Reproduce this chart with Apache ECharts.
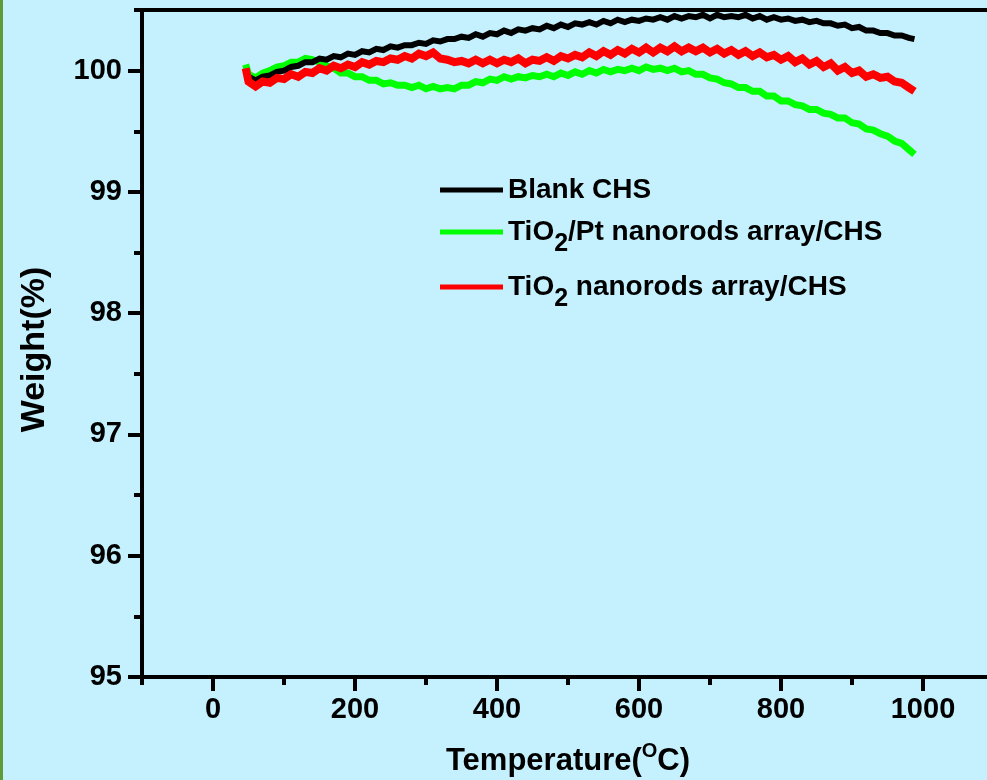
<!DOCTYPE html>
<html>
<head>
<meta charset="utf-8">
<script src="https://cdn.jsdelivr.net/npm/echarts@6/dist/echarts.min.js"></script>
<style>
  html, body { margin: 0; padding: 0; background: #c4f1fd; }
  #chart { width: 987px; height: 780px; }
</style>
</head>
<body>
<div id="chart"></div>
<script>
// Temperature sampling points (°C) shared by all three TGA traces
const temps = [
  46, 50, 60, 70, 80, 90, 100, 110, 120, 130,
  140, 150, 160, 170, 180, 190, 200, 210, 220, 230,
  240, 250, 260, 270, 280, 290, 300, 310, 320, 330,
  340, 350, 360, 370, 380, 390, 400, 410, 420, 430,
  440, 450, 460, 470, 480, 490, 500, 510, 520, 530,
  540, 550, 560, 570, 580, 590, 600, 610, 620, 630,
  640, 650, 660, 670, 680, 690, 700, 710, 720, 730,
  740, 750, 760, 770, 780, 790, 800, 810, 820, 830,
  840, 850, 860, 870, 880, 890, 900, 910, 920, 930,
  940, 950, 960, 970, 980, 988];

// Weight (%) of each sample
const blankCHS = [
  99.99, 99.95, 99.92, 99.95, 99.96, 99.99, 100.00, 100.03, 100.04, 100.07,
  100.07, 100.10, 100.09, 100.12, 100.11, 100.14, 100.13, 100.16, 100.15, 100.18,
  100.17, 100.20, 100.19, 100.21, 100.21, 100.23, 100.22, 100.25, 100.24, 100.26,
  100.26, 100.28, 100.27, 100.30, 100.28, 100.31, 100.30, 100.33, 100.31, 100.34,
  100.33, 100.35, 100.34, 100.37, 100.35, 100.38, 100.36, 100.39, 100.38, 100.40,
  100.38, 100.41, 100.39, 100.42, 100.40, 100.42, 100.41, 100.43, 100.42, 100.44,
  100.42, 100.45, 100.43, 100.45, 100.44, 100.46, 100.43, 100.46, 100.44, 100.45,
  100.44, 100.46, 100.43, 100.45, 100.42, 100.44, 100.42, 100.43, 100.41, 100.42,
  100.40, 100.41, 100.39, 100.39, 100.37, 100.38, 100.35, 100.36, 100.33, 100.33,
  100.31, 100.31, 100.29, 100.29, 100.27, 100.26];

const tiO2PtCHS = [
  100.05, 99.97, 99.94, 99.98, 100.00, 100.03, 100.04, 100.07, 100.07, 100.10,
  100.09, 100.07, 100.04, 100.02, 99.98, 99.98, 99.95, 99.95, 99.92, 99.92,
  99.89, 99.90, 99.88, 99.88, 99.86, 99.88, 99.85, 99.87, 99.85, 99.86,
  99.85, 99.88, 99.88, 99.91, 99.90, 99.93, 99.92, 99.95, 99.93, 99.95,
  99.94, 99.96, 99.95, 99.97, 99.95, 99.98, 99.96, 99.99, 99.97, 100.00,
  99.98, 100.01, 99.99, 100.01, 100.00, 100.02, 100.00, 100.03, 100.01, 100.02,
  100.00, 100.02, 99.99, 100.00, 99.97, 99.97, 99.94, 99.93, 99.90, 99.89,
  99.86, 99.86, 99.83, 99.83, 99.79, 99.79, 99.75, 99.75, 99.72, 99.71,
  99.68, 99.68, 99.65, 99.64, 99.61, 99.61, 99.57, 99.56, 99.52, 99.51,
  99.48, 99.46, 99.42, 99.40, 99.35, 99.31];

const tiO2CHS = [
  100.02, 99.91, 99.87, 99.91, 99.90, 99.94, 99.93, 99.97, 99.95, 99.99,
  99.98, 100.02, 100.00, 100.04, 100.02, 100.05, 100.03, 100.07, 100.05, 100.08,
  100.07, 100.10, 100.09, 100.12, 100.10, 100.14, 100.12, 100.15, 100.10, 100.09,
  100.07, 100.08, 100.06, 100.09, 100.06, 100.09, 100.06, 100.09, 100.07, 100.10,
  100.06, 100.09, 100.08, 100.11, 100.08, 100.12, 100.10, 100.13, 100.11, 100.15,
  100.12, 100.16, 100.13, 100.17, 100.14, 100.18, 100.15, 100.19, 100.15, 100.19,
  100.16, 100.20, 100.16, 100.19, 100.16, 100.19, 100.15, 100.18, 100.14, 100.17,
  100.13, 100.16, 100.12, 100.15, 100.11, 100.13, 100.09, 100.12, 100.07, 100.10,
  100.05, 100.08, 100.03, 100.06, 100.00, 100.03, 99.98, 100.00, 99.95, 99.97,
  99.94, 99.95, 99.91, 99.90, 99.86, 99.83];

// Axis tick positions and labels
const xLabelTicks = [0, 200, 400, 600, 800, 1000];
const xMinorTicks = [-100, 100, 300, 500, 700, 900, 1100];
const yLabelTicks = [95, 96, 97, 98, 99, 100];
const yMinorTicks = [95.5, 96.5, 97.5, 98.5, 99.5, 100.5];

const seriesNames = ['Blank CHS', 'TiO2/Pt nanorods array/CHS', 'TiO2 nanorods array/CHS'];
const seriesColors = ['#000000', '#00ff00', '#ff0000'];
const seriesWidths = [6, 7, 8];

const FONT = "'Liberation Sans', Arial, sans-serif";
const pairs = (vals) => temps.map((t, i) => [t, vals[i]]);

const axisLine = { show: true, onZero: false, lineStyle: { color: '#000', width: 4 } };
const tickStyle = { color: '#000', width: 4 };

const legendText = {
  'Blank CHS': '{m|Blank CHS}',
  'TiO2/Pt nanorods array/CHS': '{m|TiO}{s|2}{m|/Pt nanorods array/CHS}',
  'TiO2 nanorods array/CHS': '{m|TiO}{s|2}{m| nanorods array/CHS}'
};
const legendRich = {
  m: { fontFamily: FONT, fontWeight: 'bold', fontSize: 28, color: '#000' },
  s: { fontFamily: FONT, fontWeight: 'bold', fontSize: 25, color: '#000', padding: [24, 0, 0, 0] }
};
const legendTops = [176, 218, 273];

const chart = echarts.init(document.getElementById('chart'), null, { renderer: 'canvas' });
chart.setOption({
  backgroundColor: '#c4f1fd',
  animation: false,
  graphic: [{
    type: 'rect', left: 0, top: 0, z: 100,
    shape: { width: 3, height: 780 },
    style: { fill: '#5f9b36' }
  }],
  grid: { left: 142, right: -7, top: 10, bottom: 103, containLabel: false, outerBoundsMode: 'none' },
  legend: seriesNames.map((name, i) => ({
    data: [name],
    left: 440,
    top: legendTops[i],
    orient: 'vertical',
    padding: 0,
    itemWidth: 63,
    itemHeight: 5,
    icon: 'rect',
    selectedMode: false,
    formatter: (n) => legendText[n],
    textStyle: { rich: legendRich }
  })),
  xAxis: [{
    type: 'value', min: -100, max: 1100, position: 'bottom',
    axisLine,
    axisTick: { show: true, customValues: xLabelTicks, length: 14, lineStyle: tickStyle },
    axisLabel: {
      customValues: xLabelTicks, margin: 18, formatter: (v) => String(v),
      fontFamily: FONT, fontWeight: 'bold', fontSize: 29, color: '#000'
    },
    splitLine: { show: false },
    name: '{m|Temperature(}{o|O}{m|C)}',
    nameLocation: 'middle',
    nameGap: 64,
    nameTextStyle: {
      rich: {
        m: { fontFamily: FONT, fontWeight: 'bold', fontSize: 31, color: '#000' },
        o: { fontFamily: FONT, fontWeight: 'bold', fontSize: 20, color: '#000', padding: [0, 0, 20, 0] }
      }
    }
  }, {
    type: 'value', min: -100, max: 1100, position: 'bottom',
    axisLine,
    axisTick: { show: true, customValues: xMinorTicks, length: 8, lineStyle: tickStyle },
    axisLabel: { show: false },
    splitLine: { show: false }
  }, {
    type: 'value', min: -100, max: 1100, position: 'top',
    axisLine,
    axisTick: { show: false },
    axisLabel: { show: false },
    splitLine: { show: false }
  }],
  yAxis: [{
    type: 'value', min: 95, max: 100.5, position: 'left',
    axisLine,
    axisTick: { show: true, customValues: yLabelTicks, length: 14, lineStyle: tickStyle },
    axisLabel: {
      customValues: yLabelTicks, margin: 20, formatter: (v) => String(v),
      fontFamily: FONT, fontWeight: 'bold', fontSize: 29, color: '#000'
    },
    splitLine: { show: false },
    name: 'Weight(%)',
    nameLocation: 'middle',
    nameGap: 90,
    nameRotate: 90,
    nameTextStyle: { fontFamily: FONT, fontWeight: 'bold', fontSize: 34, color: '#000', padding: [0, 12, 0, 0] }
  }, {
    type: 'value', min: 95, max: 100.5, position: 'left',
    axisLine,
    axisTick: { show: true, customValues: yMinorTicks, length: 8, lineStyle: tickStyle },
    axisLabel: { show: false },
    splitLine: { show: false }
  }],
  series: [1, 0, 2].map(i => ({
    type: 'line', xAxisIndex: 0, yAxisIndex: 0, showSymbol: false, symbol: 'none',
    name: seriesNames[i],
    data: pairs([blankCHS, tiO2PtCHS, tiO2CHS][i]),
    itemStyle: { color: seriesColors[i] },
    lineStyle: { color: seriesColors[i], width: seriesWidths[i], join: 'miter' }
  }))
});
</script>
</body>
</html>
